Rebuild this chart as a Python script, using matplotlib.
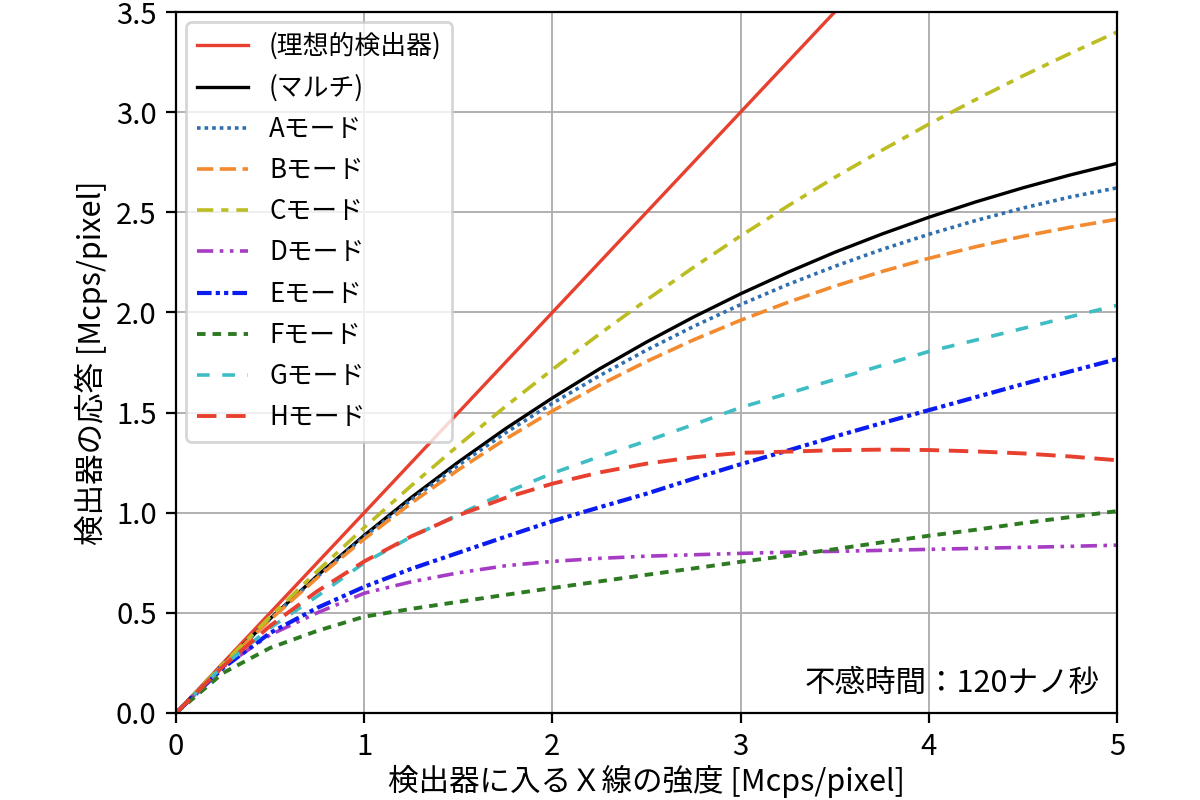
import matplotlib
matplotlib.use("Agg")
import matplotlib.pyplot as plt

plt.rcParams['font.family'] = ['Noto Sans CJK JP', 'DejaVu Sans']
plt.rcParams['font.size'] = 10.5

x = [0, 0.25, 0.5, 0.75, 1, 1.25, 1.5, 1.75, 2, 2.25, 2.5, 2.75,
     3, 3.25, 3.5, 3.75, 4, 4.25, 4.5, 4.75, 5]

ideal = [0, 0.25, 0.5, 0.75, 1, 1.25, 1.5, 1.75, 2, 2.25, 2.5, 2.75,
         3, 3.25, 3.5, 3.75, 4, 4.25, 4.5, 4.75, 5]
multi = [0, 0.243, 0.471, 0.685, 0.887, 1.076, 1.253, 1.419, 1.573, 1.718, 1.852, 1.977,
         2.093, 2.200, 2.300, 2.391, 2.475, 2.552, 2.622, 2.686, 2.744]
mode_a = [0, 0.242, 0.469, 0.680, 0.880, 1.064, 1.237, 1.398, 1.546, 1.684, 1.812, 1.930,
          2.039, 2.139, 2.230, 2.314, 2.390, 2.459, 2.521, 2.576, 2.622]
mode_b = [0, 0.241, 0.466, 0.675, 0.869, 1.048, 1.214, 1.367, 1.508, 1.637, 1.755, 1.863,
          1.961, 2.050, 2.131, 2.204, 2.270, 2.328, 2.380, 2.425, 2.465]
mode_c = [0, 0.245, 0.481, 0.708, 0.926, 1.135, 1.336, 1.530, 1.715, 1.892, 2.062, 2.225,
          2.382, 2.531, 2.674, 2.809, 2.940, 3.063, 3.181, 3.293, 3.400]
mode_d = [0, 0.230, 0.390, 0.500, 0.598, 0.655, 0.700, 0.735, 0.757, 0.772, 0.783, 0.790,
          0.797, 0.803, 0.807, 0.812, 0.817, 0.822, 0.827, 0.832, 0.838]
mode_e = [0, 0.225, 0.400, 0.525, 0.630, 0.720, 0.800, 0.880, 0.958, 1.027, 1.095, 1.170,
          1.242, 1.310, 1.380, 1.447, 1.512, 1.577, 1.642, 1.705, 1.767]
mode_f = [0, 0.200, 0.325, 0.410, 0.481, 0.520, 0.555, 0.590, 0.624, 0.657, 0.690, 0.722,
          0.755, 0.785, 0.818, 0.852, 0.885, 0.915, 0.948, 0.978, 1.008]
mode_g = [0, 0.235, 0.425, 0.583, 0.750, 0.880, 0.990, 1.100, 1.197, 1.280, 1.358, 1.440,
          1.525, 1.595, 1.665, 1.735, 1.805, 1.862, 1.920, 1.978, 2.035]
mode_h = [0, 0.233, 0.435, 0.608, 0.757, 0.882, 0.987, 1.074, 1.145, 1.201, 1.245, 1.277,
          1.299, 1.305, 1.312, 1.315, 1.313, 1.306, 1.296, 1.281, 1.262]

labels = ['(理想的検出器)', '(マルチ)', 'Aモード', 'Bモード', 'Cモード', 'Dモード',
          'Eモード', 'Fモード', 'Gモード', 'Hモード']
xlabel = '検出器に入るＸ線の強度 [Mcps/pixel]'
ylabel = '検出器の応答 [Mcps/pixel]'
note = '不感時間：120ナノ秒'

fig = plt.figure(figsize=(6, 4), dpi=200)
ax = fig.add_axes([0.1467, 0.10875, 0.7841, 0.87625])

ax.plot(x, ideal, color='#e8402f', lw=1.2, linestyle='-', label=labels[0])
ax.plot(x, multi, color='black', lw=1.2, linestyle='-', label=labels[1])
ax.plot(x, mode_a, color='#2f6fb0', lw=1.3, linestyle=(0, (1, 1.1)), label=labels[2])
ax.plot(x, mode_b, color='#f28a30', lw=1.3, linestyle=(0, (4.5, 1.8)), label=labels[3])
ax.plot(x, mode_c, color='#bcbd22', lw=1.3, linestyle=(0, (4.5, 2.2, 2, 2.2)), label=labels[4])
ax.plot(x, mode_d, color='#a63cc4', lw=1.3, linestyle=(0, (4.5, 1.8, 1, 1.8, 1, 1.8)), label=labels[5])
ax.plot(x, mode_e, color='#0a1cf0', lw=1.5, linestyle=(0, (3.5, 1, 1, 1, 1, 1)), label=labels[6])
ax.plot(x, mode_f, color='#2e7a22', lw=1.4, linestyle=(0, (2.2, 1.8)), label=labels[7])
ax.plot(x, mode_g, color='#3ebdc4', lw=1.3, linestyle=(0, (3.5, 3.5)), label=labels[8])
ax.plot(x, mode_h, color='#e8402f', lw=1.4, linestyle=(0, (5, 2.5)), label=labels[9])

ax.set_xlim(0, 5)
ax.set_ylim(0, 3.5)
ax.set_xticks([0, 1, 2, 3, 4, 5])
ax.set_yticks([0, 0.5, 1.0, 1.5, 2.0, 2.5, 3.0, 3.5])
ax.set_yticklabels(['0.0', '0.5', '1.0', '1.5', '2.0', '2.5', '3.0', '3.5'])
ax.grid(True, color='#b0b0b0', lw=0.7)
ax.set_axisbelow(True)
ax.set_xlabel(xlabel, fontsize=11, labelpad=1)
ax.set_ylabel(ylabel, fontsize=11, labelpad=3)

ax.legend(loc='upper left', fontsize=9.3, framealpha=0.8, handlelength=2.0,
          labelspacing=0.55, borderaxespad=0.4)
ax.text(0.982, 0.02, note, transform=ax.transAxes, ha='right', va='bottom', fontsize=11)

fig.savefig('out.png', dpi=200)
